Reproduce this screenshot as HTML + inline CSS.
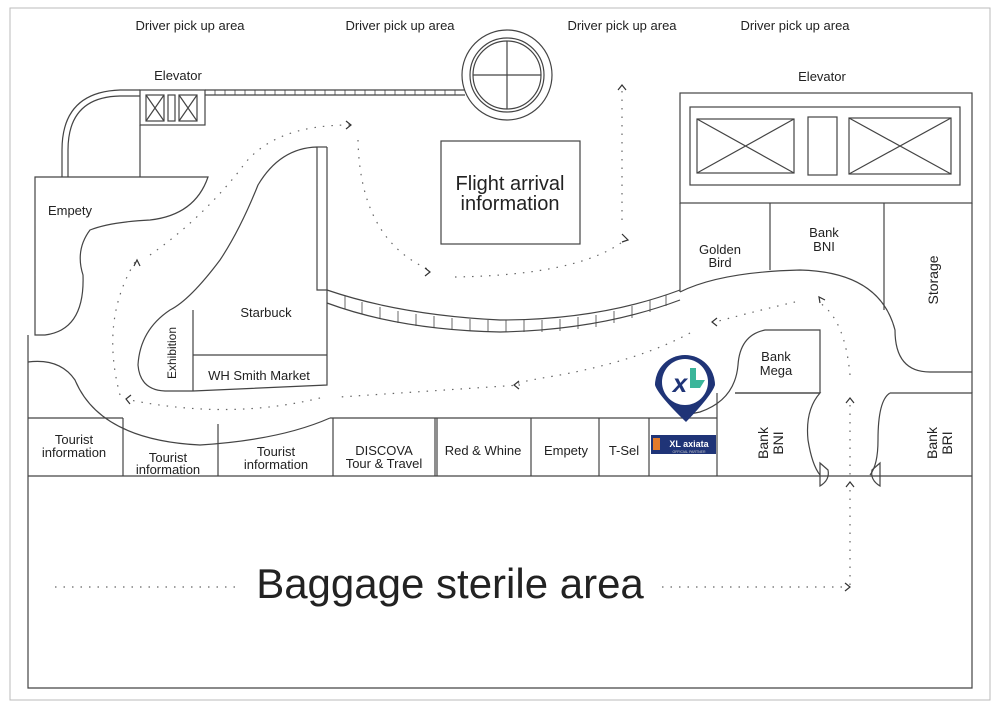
<!DOCTYPE html>
<html><head><meta charset="utf-8"><style>
html,body{margin:0;padding:0;background:#fff;}
svg{display:block;font-family:"Liberation Sans",Arial,sans-serif;}
</style></head><body>
<svg width="1000" height="709" viewBox="0 0 1000 709" xmlns="http://www.w3.org/2000/svg">
<rect x="0" y="0" width="1000" height="709" fill="#fff"/>
<rect x="10" y="8" width="980" height="692" fill="none" stroke="#bbb" stroke-width="1"/>
<g font-size="13" fill="#222" text-anchor="middle">
<text x="190" y="30">Driver pick up area</text>
<text x="400" y="30">Driver pick up area</text>
<text x="622" y="30">Driver pick up area</text>
<text x="795" y="30">Driver pick up area</text>
<text x="178" y="80">Elevator</text>
<text x="822" y="81">Elevator</text>
</g>
<g fill="none" stroke="#444" stroke-width="1.2">
<path d="M62 177 L62 150 Q62 92 120 90 L140 90"/>
<path d="M68 177 L68 150 Q68 97 120 96 L140 96"/>
<line x1="140" y1="125" x2="140" y2="177"/>
<rect x="140" y="90" width="65" height="35"/>
<rect x="146" y="95" width="18" height="26"/><path d="M146 95 L164 121 M164 95 L146 121"/>
<rect x="168" y="95" width="7" height="26"/>
<rect x="179" y="95" width="18" height="26"/><path d="M179 95 L197 121 M197 95 L179 121"/>
<line x1="205" y1="90" x2="465" y2="90"/><line x1="205" y1="95" x2="465" y2="95"/>
<circle cx="507" cy="75" r="45"/><circle cx="507" cy="75" r="37"/><circle cx="507" cy="75" r="34"/>
<line x1="473" y1="75" x2="541" y2="75"/><line x1="507" y1="41" x2="507" y2="109"/>
<path d="M35 335 L35 177 L208 177 Q195 215 150 220 Q110 222 90 230 Q75 250 83 275 Q85 330 45 335 Z"/>
<path d="M28 335 L28 476"/>
<path d="M28 362 Q60 358 75 380 Q100 440 200 445 Q280 440 330 418"/>
<path d="M327 147 L327 290"/><path d="M317 147 L327 147"/>
<path d="M317 147 Q280 148 258 185 Q240 230 220 260 Q190 300 170 310 Q140 330 138 365 Q140 390 165 391 L193 391 L327 385 L327 290 L317 290 L317 147"/>
<line x1="193" y1="310" x2="193" y2="391"/>
<line x1="193" y1="355" x2="327" y2="355"/>
<path d="M327 290 Q400 315 500 320 Q600 320 680 290"/>
<path d="M327 303 Q400 330 500 332 Q600 330 680 300"/>
<rect x="441" y="141" width="139" height="103"/>
<rect x="680" y="93" width="292" height="110"/>
<rect x="690" y="107" width="270" height="78"/>
<rect x="697" y="119" width="97" height="54"/><path d="M697 119 L794 173 M794 119 L697 173"/>
<rect x="808" y="117" width="29" height="58"/>
<rect x="849" y="118" width="102" height="56"/><path d="M849 118 L951 174 M951 118 L849 174"/>
<line x1="680" y1="203" x2="680" y2="292"/>
<line x1="770" y1="203" x2="770" y2="270"/>
<line x1="884" y1="203" x2="884" y2="310"/>
<line x1="972" y1="203" x2="972" y2="393"/>
<path d="M680 292 Q720 272 800 270 Q880 272 895 330 Q895 372 930 372 L972 372"/>
<path d="M820 393 L820 330 L765 330 Q740 335 738 365 Q735 400 700 412 L690 414"/>
<line x1="735" y1="393" x2="820" y2="393"/>
<path d="M28 418 L123 418 M330 418 L717 418"/>
<line x1="28" y1="476" x2="972" y2="476"/>
<line x1="123" y1="418" x2="123" y2="476"/>
<line x1="218" y1="424" x2="218" y2="476"/>
<line x1="333" y1="418" x2="333" y2="476"/>
<line x1="435" y1="418" x2="435" y2="476"/><line x1="437" y1="418" x2="437" y2="476"/>
<line x1="531" y1="418" x2="531" y2="476"/>
<line x1="599" y1="418" x2="599" y2="476"/>
<line x1="649" y1="418" x2="649" y2="476"/>
<line x1="717" y1="393" x2="717" y2="476"/>
<path d="M735 393 L820 393 Q805 410 808 440 Q812 465 820 475"/>
<path d="M890 393 L972 393 L972 688 L28 688 L28 476"/>
<path d="M890 393 Q878 400 878 440 Q878 465 870 475"/>
<path d="M820 463 L820 486 Q830 480 828 470 Z"/>
<path d="M880 463 L880 486 Q870 480 872 470 Z"/>
</g>
<g stroke="#444" stroke-width="0.8">
<path d="M215 90v5M225 90v5M235 90v5M245 90v5M255 90v5M265 90v5M275 90v5M285 90v5M295 90v5M305 90v5M315 90v5M325 90v5M335 90v5M345 90v5M355 90v5M365 90v5M375 90v5M385 90v5M395 90v5M405 90v5M415 90v5M425 90v5M435 90v5M445 90v5M455 90v5"/>
<path d="M345 296v13M362 302v12M380 307v12M398 311v12M416 314v12M434 316v12M452 318v12M470 319v12M488 320v12M506 320v12M524 320v12M542 320v12M560 319v12M578 317v12M596 315v12M614 311v12M632 306v12M650 300v12M666 295v11"/>
</g>
<g fill="none" stroke="#666" stroke-width="1.2" stroke-dasharray="1.5 7">
<path d="M55 587 L240 587"/>
<path d="M662 587 L845 587"/>
<path d="M850 585 L850 400"/>
<path d="M850 375 Q845 320 820 303"/>
<path d="M795 302 Q760 310 715 322"/>
<path d="M690 333 Q640 360 560 375 Q500 385 520 385 L340 397"/>
<path d="M320 398 Q230 420 130 400"/>
<path d="M120 395 Q100 320 135 262"/>
<path d="M150 255 Q200 220 240 170 Q270 125 350 125"/>
<path d="M358 140 Q360 240 430 270"/>
<path d="M455 277 Q580 275 625 240"/>
<path d="M622 220 L622 88"/>
</g>
<g fill="none" stroke="#333" stroke-width="1.2">
<path d="M845 583 L850 587 L845 591"/>
<path d="M846 403 L850 398 L854 403"/>
<path d="M846 487 L850 482 L854 487"/>
<path d="M820 303 L819 297 L825 300"/>
<path d="M717 318 L712 322 L717 326"/>
<path d="M519 381 L514 385 L519 389"/>
<path d="M131 395 L126 399 L130 404"/>
<path d="M134 266 L137 260 L140 266"/>
<path d="M346 121 L351 125 L346 129"/>
<path d="M425 268 L430 272 L425 276"/>
<path d="M622 234 L628 240 L622 242"/>
<path d="M618 90 L622 85 L626 90"/>
</g>
<g fill="#222" text-anchor="middle">
<text x="510" y="190" font-size="20">Flight arrival</text>
<text x="510" y="210" font-size="20">information</text>
<text x="70" y="215" font-size="13">Empety</text>
<text x="266" y="317" font-size="13">Starbuck</text>
<text x="259" y="380" font-size="13">WH Smith Market</text>
<text transform="translate(176,353) rotate(-90)" font-size="12">Exhibition</text>
<text x="74" y="444" font-size="13">Tourist</text><text x="74" y="457" font-size="13">information</text>
<text x="168" y="462" font-size="13">Tourist</text><text x="168" y="474" font-size="13">information</text>
<text x="276" y="456" font-size="13">Tourist</text><text x="276" y="469" font-size="13">information</text>
<text x="384" y="455" font-size="13">DISCOVA</text><text x="384" y="468" font-size="13">Tour &amp; Travel</text>
<text x="483" y="455" font-size="13">Red &amp; Whine</text>
<text x="566" y="455" font-size="13">Empety</text>
<text x="624" y="455" font-size="13">T-Sel</text>
<text x="720" y="254" font-size="13">Golden</text><text x="720" y="267" font-size="13">Bird</text>
<text x="824" y="237" font-size="13">Bank</text><text x="824" y="251" font-size="13">BNI</text>
<text transform="translate(938,280) rotate(-90)" font-size="14">Storage</text>
<text x="776" y="361" font-size="13">Bank</text><text x="776" y="375" font-size="13">Mega</text>
<text transform="translate(768,443) rotate(-90)" font-size="14">Bank</text>
<text transform="translate(783,443) rotate(-90)" font-size="14">BNI</text>
<text transform="translate(937,443) rotate(-90)" font-size="14">Bank</text>
<text transform="translate(952,443) rotate(-90)" font-size="14">BRI</text>
<text x="450" y="598" font-size="42">Baggage sterile area</text>
</g>
<g>
<path d="M655 385 A30 30 0 1 1 715 385 Q712 395 686 422 Q658 395 655 385 Z" fill="#1f3477"/>
<circle cx="685" cy="382" r="23" fill="#fff"/>
<text x="680" y="392" font-size="26" font-weight="bold" fill="#1f3477" text-anchor="middle" font-style="italic">x</text>
<path d="M690 368 L696 368 L696 380 L705 380 L700 388 L690 388 Z" fill="#3bb59a"/>
<rect x="651" y="435" width="65" height="19" fill="#1f3477"/>
<rect x="653" y="438" width="7" height="12" fill="#e27a2b"/>
<text x="689" y="447" font-size="9" font-weight="bold" fill="#fff" text-anchor="middle">XL axiata</text>
<text x="689" y="453" font-size="3.5" fill="#ccc" text-anchor="middle">OFFICIAL PARTNER</text>
</g>
</svg>
</body></html>
